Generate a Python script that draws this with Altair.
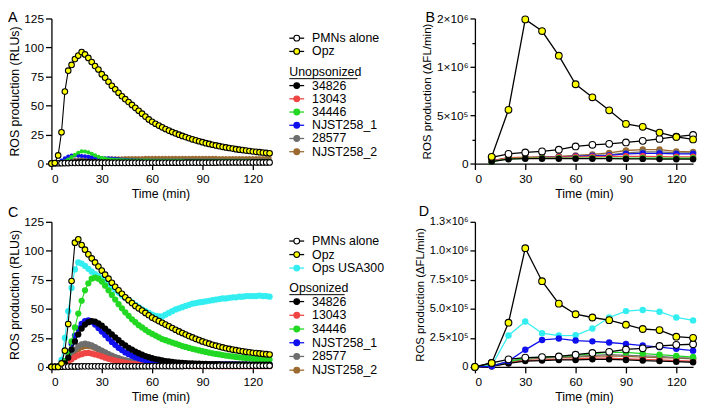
import altair as alt
import pandas as pd

FONT = "Liberation Sans"

# ---------------- data ----------------
T_KIN = [0, 2, 4, 6, 8, 10, 12, 14, 16, 18, 20, 22, 24, 26, 28, 30, 32, 34, 36, 38,
         40, 42, 44, 46, 48, 50, 52, 54, 56, 58, 60, 62, 64, 66, 68, 70, 72, 74, 76, 78,
         80, 82, 84, 86, 88, 90, 92, 94, 96, 98, 100, 102, 104, 106, 108, 110, 112, 114, 116, 118,
         120, 122, 124, 126, 128, 130]

A_PMN = [0.2, 0.2, 0.3, 0.3, 0.4, 0.4, 0.5, 0.5, 0.5, 0.6,
         0.6, 0.6, 0.6, 0.6, 0.6, 0.6, 0.6, 0.6, 0.6, 0.6,
         0.6, 0.6, 0.6, 0.6, 0.6, 0.6, 0.6, 0.6, 0.6, 0.6,
         0.7, 0.7, 0.7, 0.7, 0.7, 0.7, 0.7, 0.7, 0.7, 0.7,
         0.8, 0.8, 0.8, 0.8, 0.8, 0.8, 0.8, 0.8, 0.8, 0.8,
         0.9, 0.9, 0.9, 0.9, 0.9, 0.9, 0.9, 0.9, 0.9, 0.9,
         1.0, 1.0, 1.0, 1.0, 1.0, 1.0]
A_OPZ = [0, 0.5, 7, 27, 62, 80, 85, 90, 93, 96,
         94, 91, 87.5, 84, 81, 77, 74, 70.5, 67, 64,
         61, 58, 55.5, 53, 50.5, 48, 45.5, 43, 40.5, 38,
         36, 34.3, 32.7, 31.2, 29.8, 28.4, 27.2, 26, 24.9, 23.8,
         22.8, 21.8, 20.9, 20, 19.2, 18.4, 17.6, 16.9, 16.2, 15.6,
         15, 14.4, 13.9, 13.4, 12.9, 12.4, 12, 11.6, 11.2, 10.8,
         10.4, 10.1, 9.8, 9.5, 9.2, 8.9]
A_34826 = [0, 0, 0.3, 0.8, 1.2, 1.5, 1.8, 2.0, 2.2, 2.3,
           2.3, 2.3, 2.2, 2.1, 2.0, 2.0, 1.9, 1.9, 1.8, 1.8,
           1.8, 1.7, 1.7, 1.7, 1.6, 1.6, 1.6, 1.6, 1.5, 1.5,
           1.5, 1.5, 1.5, 1.5, 1.5, 1.5, 1.5, 1.5, 1.5, 1.5,
           1.5, 1.5, 1.5, 1.5, 1.5, 1.5, 1.5, 1.5, 1.5, 1.5,
           1.5, 1.5, 1.5, 1.5, 1.5, 1.5, 1.5, 1.5, 1.5, 1.5,
           1.5, 1.5, 1.5, 1.5, 1.5, 1.5]
A_13043 = [0, 0, 0.2, 0.5, 0.8, 1.0, 1.2, 1.4, 1.5, 1.6,
           1.6, 1.6, 1.6, 1.5, 1.5, 1.5, 1.5, 1.5, 1.5, 1.5,
           1.5, 1.5, 1.5, 1.5, 1.5, 1.5, 1.4, 1.4, 1.4, 1.4,
           1.4, 1.4, 1.4, 1.4, 1.4, 1.4, 1.4, 1.4, 1.4, 1.4,
           1.4, 1.4, 1.4, 1.4, 1.4, 1.4, 1.4, 1.4, 1.4, 1.4,
           1.4, 1.4, 1.4, 1.4, 1.4, 1.4, 1.4, 1.4, 1.4, 1.4,
           1.4, 1.4, 1.4, 1.4, 1.4, 1.4]
A_34446 = [0, 0, 0.3, 1.0, 2.0, 3.5, 5.5, 7.5, 9.3, 10.5,
           10.4, 9.6, 8.4, 7.0, 5.8, 4.9, 4.2, 3.7, 3.4, 3.2,
           3.0, 2.9, 2.8, 2.7, 2.6, 2.6, 2.5, 2.5, 2.5, 2.5,
           2.4, 2.4, 2.4, 2.4, 2.4, 2.4, 2.4, 2.4, 2.4, 2.4,
           2.4, 2.4, 2.4, 2.4, 2.4, 2.4, 2.4, 2.4, 2.4, 2.4,
           2.3, 2.3, 2.3, 2.3, 2.3, 2.3, 2.3, 2.3, 2.3, 2.3,
           2.3, 2.3, 2.3, 2.3, 2.3, 2.3]
A_NJ1 = [0, 0.2, 1.0, 2.5, 4.5, 6.0, 6.8, 7.0, 6.8, 6.5,
         6.2, 5.8, 5.5, 5.2, 5.0, 4.8, 4.6, 4.4, 4.2, 4.0,
         3.7, 3.4, 3.1, 2.9, 2.7, 2.6, 2.5, 2.4, 2.4, 2.3,
         2.2, 2.2, 2.2, 2.2, 2.2, 2.2, 2.2, 2.2, 2.2, 2.2,
         2.2, 2.2, 2.2, 2.2, 2.2, 2.2, 2.2, 2.2, 2.2, 2.2,
         2.2, 2.2, 2.2, 2.2, 2.2, 2.2, 2.2, 2.2, 2.2, 2.2,
         2.2, 2.2, 2.2, 2.2, 2.2, 2.2]
A_28577 = [0, 0, 0.3, 0.8, 1.4, 2.0, 2.4, 2.7, 2.9, 3.0,
           3.0, 3.1, 3.1, 3.1, 3.0, 3.0, 3.0, 3.0, 3.0, 3.0,
           3.0, 3.0, 3.0, 3.0, 3.0, 3.0, 3.0, 3.0, 3.0, 3.0,
           2.9, 2.9, 2.9, 2.9, 2.9, 2.9, 2.9, 2.9, 2.9, 2.9,
           2.9, 2.9, 2.9, 2.9, 2.9, 2.9, 2.9, 2.9, 2.9, 2.9,
           2.8, 2.8, 2.8, 2.8, 2.8, 2.8, 2.8, 2.8, 2.8, 2.8,
           2.8, 2.8, 2.8, 2.8, 2.8, 2.8]
A_NJ2 = [0, 0, 0.3, 1.0, 1.8, 2.5, 3.0, 3.3, 3.5, 3.6,
         3.7, 3.8, 3.9, 4.0, 4.1, 4.2, 4.3, 4.4, 4.5, 4.5,
         4.6, 4.6, 4.7, 4.7, 4.8, 4.8, 4.8, 4.8, 4.9, 4.9,
         4.9, 4.9, 4.9, 4.9, 4.9, 4.9, 4.9, 4.9, 4.9, 4.9,
         4.9, 4.9, 4.9, 4.9, 4.9, 4.9, 4.9, 4.9, 4.9, 4.9,
         4.8, 4.8, 4.8, 4.8, 4.8, 4.8, 4.8, 4.8, 4.8, 4.8,
         4.7, 4.7, 4.7, 4.7, 4.7, 4.7]

C_PMN = [0.1, 0.1, 0.2, 0.2, 0.3, 0.3, 0.4, 0.4, 0.4, 0.5,
         0.5, 0.5, 0.5, 0.5, 0.5, 0.5, 0.5, 0.5, 0.5, 0.5,
         0.6, 0.6, 0.6, 0.6, 0.6, 0.6, 0.6, 0.6, 0.6, 0.6,
         0.7, 0.7, 0.7, 0.7, 0.7, 0.7, 0.7, 0.7, 0.7, 0.7,
         0.8, 0.8, 0.8, 0.8, 0.8, 0.8, 0.8, 0.8, 0.8, 0.8,
         0.9, 0.9, 0.9, 0.9, 0.9, 0.9, 0.9, 0.9, 0.9, 0.9,
         1.0, 1.0, 1.0, 1.0, 1.0, 1.0]
C_OPZ = [0, 0, 0, 3, 14, 37, 74, 107, 110, 105,
         101, 97, 93.5, 90, 86.5, 83, 79.5, 76, 72.5, 69,
         66, 63, 60, 57.5, 55, 52.5, 50.5, 48.5, 46.5, 44.5,
         42.5, 41, 39.5, 38, 36.5, 35, 33.5, 32, 30.6, 29.2,
         27.9, 26.6, 25.4, 24.2, 23.1, 22, 21, 20, 19.1, 18.3,
         17.5, 16.8, 16.1, 15.5, 14.9, 14.4, 13.9, 13.4, 13, 12.6,
         12.2, 11.9, 11.6, 11.3, 11, 10.7]
C_USA = [0, 0, 0.5, 6, 25, 48, 68, 84, 90, 89,
         87, 84.5, 82, 80, 78, 76, 74, 71.5, 69, 66.5,
         64, 61.5, 59.5, 57.5, 55.5, 53.5, 51.5, 49.5, 48, 46.5,
         45, 44, 43.5, 43.5, 45, 46.5, 48, 49.5, 50.5, 51.5,
         52.5, 53.5, 54.5, 55, 55.5, 56, 56.5, 57, 57.5, 58,
         58.5, 59, 59, 59.5, 60, 60, 60.5, 60.5, 61, 61,
         61, 61, 61.5, 61, 61, 60.5]
C_34446 = [0, 0, 0, 1, 5, 12, 22, 34, 46, 57,
           66, 72, 76, 77, 76, 73.5, 70, 66, 62, 58,
           54, 50.5, 47, 44, 41, 38.5, 36, 34, 32, 30,
           28.5, 27, 25.5, 24, 23, 22, 21, 20, 19, 18,
           17.2, 16.4, 15.6, 14.9, 14.2, 13.5, 12.9, 12.3, 11.7, 11.2,
           10.7, 10.2, 9.8, 9.4, 9, 8.6, 8.3, 8, 7.7, 7.4,
           7.1, 6.9, 6.7, 6.5, 6.3, 6.1]
C_34826 = [0, 0, 0, 0.5, 3, 8, 15, 22, 28, 33,
           36.5, 38.5, 39.5, 39, 37.5, 35.5, 33, 30.5, 28, 25.5,
           23, 20.5, 18.5, 16.5, 14.8, 13.2, 11.8, 10.5, 9.4, 8.4,
           7.5, 6.8, 6.2, 5.6, 5.1, 4.7, 4.3, 4, 3.7, 3.5,
           3.3, 3.1, 3, 2.9, 2.8, 2.7, 2.6, 2.5, 2.5, 2.4,
           2.4, 2.3, 2.3, 2.2, 2.2, 2.2, 2.1, 2.1, 2.1, 2,
           2, 2, 2, 2, 1.9, 1.9]
C_NJ1 = [0, 0, 0, 1, 5, 12, 20, 27, 33, 37,
         39.5, 40, 39, 36.5, 33.5, 30.5, 27.5, 24.5, 21.5, 19,
         16.5, 14.5, 12.5, 11, 9.6, 8.4, 7.4, 6.6, 5.9, 5.3,
         4.8, 4.4, 4, 3.7, 3.4, 3.2, 3, 2.9, 2.8, 2.7,
         2.6, 2.5, 2.5, 2.4, 2.4, 2.3, 2.3, 2.3, 2.2, 2.2,
         2.2, 2.2, 2.1, 2.1, 2.1, 2.1, 2, 2, 2, 2,
         2, 2, 2, 2, 2, 2]
C_28577 = [0, 0, 0, 0.5, 3, 7, 11, 15, 18, 19.5,
           20, 19.5, 18.5, 17, 15.5, 14, 12.5, 11, 9.7, 8.5,
           7.5, 6.6, 5.8, 5.1, 4.5, 4, 3.6, 3.2, 2.9, 2.6,
           2.4, 2.2, 2, 1.9, 1.8, 1.7, 1.6, 1.6, 1.5, 1.5,
           1.5, 1.4, 1.4, 1.4, 1.4, 1.3, 1.3, 1.3, 1.3, 1.3,
           1.3, 1.2, 1.2, 1.2, 1.2, 1.2, 1.2, 1.2, 1.2, 1.2,
           1.2, 1.2, 1.2, 1.2, 1.2, 1.2]
C_NJ2 = [0, 0, 0, 0.4, 2.5, 6, 9.5, 13, 15.5, 17,
         18, 18, 17.5, 16.5, 15, 13.5, 12, 10.5, 9.2, 8,
         7, 6.1, 5.3, 4.6, 4, 3.5, 3.1, 2.8, 2.5, 2.3,
         2.1, 2, 1.9, 1.8, 1.7, 1.6, 1.6, 1.5, 1.5, 1.5,
         1.4, 1.4, 1.4, 1.4, 1.3, 1.3, 1.3, 1.3, 1.3, 1.3,
         1.2, 1.2, 1.2, 1.2, 1.2, 1.2, 1.2, 1.2, 1.2, 1.2,
         1.2, 1.2, 1.2, 1.2, 1.2, 1.2]
C_13043 = [0, 0, 0, 0.3, 1.5, 4, 6.5, 8.5, 10, 11,
           11.8, 12, 11.5, 10.8, 10, 9, 8, 7, 6.2, 5.4,
           4.7, 4.1, 3.6, 3.1, 2.7, 2.4, 2.1, 1.9, 1.7, 1.5,
           1.3, 1.2, 1.1, 1, 0.9, 0.9, 0.8, 0.8, 0.8, 0.8,
           0.8, 0.7, 0.7, 0.7, 0.7, 0.7, 0.7, 0.7, 0.7, 0.7,
           0.6, 0.6, 0.6, 0.6, 0.6, 0.6, 0.6, 0.6, 0.6, 0.6,
           0.6, 0.6, 0.6, 0.6, 0.6, 0.6]

T_B = [10, 20, 30, 40, 50, 60, 70, 80, 90, 100, 110, 120, 130]
B_OPZ = [70000, 556000, 1980000, 1740000, 1230000, 820000, 685000, 550000, 410000, 380000, 320000, 275000, 250000]
B_PMN = [64000, 100000, 115000, 126000, 143000, 177000, 194000, 204000, 218000, 235000, 255000, 279000, 296000]
B_34826 = [20000, 45000, 50000, 50000, 50000, 50000, 50000, 50000, 48000, 48000, 46000, 45000, 45000]
B_13043 = [25000, 60000, 65000, 65000, 68000, 70000, 72000, 75000, 75000, 75000, 72000, 70000, 70000]
B_34446 = [20000, 50000, 55000, 55000, 55000, 55000, 55000, 56000, 56000, 56000, 55000, 55000, 55000]
B_NJ1 = [25000, 55000, 60000, 65000, 70000, 75000, 80000, 85000, 100000, 105000, 105000, 100000, 100000]
B_28577 = [25000, 55000, 60000, 65000, 70000, 80000, 85000, 90000, 110000, 120000, 120000, 110000, 110000]
B_NJ2 = [30000, 60000, 65000, 70000, 75000, 85000, 95000, 110000, 135000, 145000, 145000, 125000, 120000]

T_D = [0, 10, 20, 30, 40, 50, 60, 70, 80, 90, 100, 110, 120, 130]
D_OPZ = [0, 34000, 380000, 1025000, 737000, 544000, 453000, 425000, 402000, 363000, 326000, 317000, 260000, 250000]
D_PMN = [0, 35000, 65000, 80000, 85000, 90000, 105000, 120000, 130000, 150000, 160000, 180000, 190000, 195000]
D_USA = [0, 10000, 270000, 390000, 290000, 270000, 272000, 330000, 425000, 480000, 490000, 475000, 425000, 400000]
D_NJ1 = [0, 5000, 50000, 147000, 232000, 244000, 227000, 220000, 210000, 198000, 184000, 170000, 156000, 140000]
D_34446 = [0, 10000, 45000, 75000, 85000, 90000, 100000, 115000, 125000, 125000, 115000, 105000, 95000, 85000]
D_28577 = [0, 10000, 45000, 70000, 80000, 85000, 90000, 100000, 105000, 100000, 95000, 90000, 80000, 75000]
D_NJ2 = [0, 10000, 40000, 65000, 75000, 80000, 85000, 90000, 95000, 90000, 85000, 80000, 75000, 70000]
D_13043 = [0, 5000, 35000, 55000, 60000, 65000, 70000, 75000, 75000, 70000, 65000, 60000, 55000, 50000]
D_34826 = [0, 5000, 30000, 50000, 55000, 60000, 60000, 65000, 65000, 60000, 55000, 50000, 45000, 40000]

STRAINS = ["34826", "13043", "34446", "NJST258_1", "28577", "NJST258_2"]
COLORS = {"PMNs alone": "#ffffff", "Opz": "#ffff00", "Ops USA300": "#33eef0",
          "34826": "#000000", "13043": "#ef4545", "34446": "#22d822",
          "NJST258_1": "#1010ee", "28577": "#6e6e6e", "NJST258_2": "#9c6a30"}
X_TICKS = [0, 30, 60, 90, 120]

W, H = 221, 147
LEG_W = 208


def style(name):
    if name in ("PMNs alone", "Opz"):
        return "#000000", COLORS[name], "#000000"
    c = COLORS[name]
    return c, c, None


def xenc():
    return alt.X("t:Q", scale=alt.Scale(domain=[0, 130], nice=False, zero=False),
                 axis=alt.Axis(values=X_TICKS, title="Time (min)", tickSize=6,
                               labelPadding=4, titlePadding=3))


def series(t, v, name, ye, big, small, lw=1.2):
    line_c, fill_c, stroke_c = style(name)
    df = pd.DataFrame({"t": t, "v": v})
    base = alt.Chart(df)
    line = base.mark_line(color=line_c, strokeWidth=lw).encode(x=xenc(), y=ye)
    if stroke_c:
        pt = base.mark_circle(size=big, fill=fill_c, stroke=stroke_c, strokeWidth=1.1,
                              opacity=1, fillOpacity=1).encode(x=xenc(), y=ye)
    else:
        pt = base.mark_circle(size=small, color=fill_c, opacity=1).encode(x=xenc(), y=ye)
    return [line, pt]


def letter(ch, dx, dy):
    return alt.Chart(pd.DataFrame({"L": [ch]})).mark_text(
        align="left", baseline="top", fontSize=14.5, font=FONT, color="black"
    ).encode(x=alt.value(dx), y=alt.value(dy), text="L:N")


def panel(t, entries, ye, ch, big, small, lw=1.2, dx=-44, dy=-7):
    layers = []
    for name, vals in entries:
        layers += series(t, vals, name, ye, big, small, lw)
    layers.append(letter(ch, dx, dy))
    return alt.layer(*layers).properties(width=W, height=H)


def legend(top_names, header, ul_w, y_top, sp, hgap, first_gap, sp2):
    rows = []
    y = y_top
    for n in top_names:
        lc, fc, sc = style(n)
        rows.append((n, y, lc, fc, sc or fc))
        y += sp
    y_header = y - sp + hgap
    y = y_header + first_gap
    for n in STRAINS:
        lc, fc, sc = style(n)
        rows.append((n, y, lc, fc, sc or fc))
        y += sp2
    df = pd.DataFrame(rows, columns=["name", "y", "line", "fill", "stroke"])
    ys = alt.Y("y:Q", scale=alt.Scale(domain=[0, H], range=[0, H], nice=False, zero=False), axis=None)
    rule = alt.Chart(df).mark_rule(strokeWidth=1.3).encode(
        x=alt.value(20), x2=alt.value(35), y=ys, color=alt.Color("line:N", scale=None))
    pts = alt.Chart(df).mark_circle(size=34, strokeWidth=1.1, opacity=1).encode(
        x=alt.value(27.5), y=ys, fill=alt.Fill("fill:N", scale=None),
        stroke=alt.Stroke("stroke:N", scale=None))
    txt = alt.Chart(df).mark_text(align="left", baseline="middle", fontSize=12.5, font=FONT,
                                  color="black").encode(x=alt.value(43), y=ys, text="name:N")
    hdf = pd.DataFrame({"h": [header], "y": [y_header], "u": [y_header + 7]})
    hdr = alt.Chart(hdf).mark_text(align="left", baseline="middle", fontSize=12.5, font=FONT,
                                   color="black").encode(x=alt.value(20), y=ys, text="h:N")
    ul = alt.Chart(hdf).mark_rule(strokeWidth=1, color="black").encode(
        x=alt.value(20), x2=alt.value(20 + ul_w),
        y=alt.Y("u:Q", scale=alt.Scale(domain=[0, H], range=[0, H], nice=False, zero=False), axis=None))
    return alt.layer(rule, pts, txt, hdr, ul).properties(width=LEG_W, height=H)


# ---- y encodings ----
Y_RLU = alt.Y("v:Q", scale=alt.Scale(domain=[0, 125], nice=False, zero=False),
              axis=alt.Axis(values=[0, 25, 50, 75, 100, 125], title="ROS production (RLUs)",
                            tickSize=6, labelPadding=2, titlePadding=2))

B_LABELS = ("datum.value == 0 ? '0' : datum.value == 500000 ? '5×10⁵' : "
            "datum.value == 1000000 ? '1×10⁶' : datum.value == 2000000 ? '2×10⁶' : ''")
Y_B = alt.Y("v:Q", scale=alt.Scale(domain=[0, 1000000, 2000000], range=[H, 49, 0], nice=False, zero=False),
            axis=alt.Axis(values=[0, 250000, 500000, 750000, 1000000, 1500000, 2000000],
                          labelExpr=B_LABELS, title="ROS production (ΔFL/min)", titleFontSize=11.7,
                          tickSize={"condition": {"test": "datum.value == 250000 || datum.value == 750000 || datum.value == 1500000", "value": 3}, "value": 5},
                          labelPadding=2, titlePadding=4))

D_LABELS = ("datum.value == 0 ? '0' : datum.value == 250000 ? '2.5×10⁵' : "
            "datum.value == 500000 ? '5.0×10⁵' : datum.value == 750000 ? '7.5×10⁵' : "
            "datum.value == 1000000 ? '1.0×10⁶' : '1.3×10⁶'")
Y_D = alt.Y("v:Q", scale=alt.Scale(domain=[0, 1000000, 1300000], range=[H, 29.2, 0], nice=False, zero=False),
            axis=alt.Axis(values=[0, 250000, 500000, 750000, 1000000, 1300000],
                          labelExpr=D_LABELS, title="ROS production (ΔFL/min)", titleFontSize=11.5,
                          labelFontSize=11.2, tickSize=5, labelPadding=2, titlePadding=4))

pA = panel(T_KIN, [("NJST258_2", A_NJ2), ("28577", A_28577), ("NJST258_1", A_NJ1),
                   ("34446", A_34446), ("13043", A_13043), ("34826", A_34826),
                   ("PMNs alone", A_PMN), ("Opz", A_OPZ)], Y_RLU, "A", 32, 18, 1.1, -44, -7)
pC = panel(T_KIN, [("Ops USA300", C_USA), ("NJST258_2", C_NJ2), ("28577", C_28577),
                   ("13043", C_13043), ("NJST258_1", C_NJ1), ("34446", C_34446),
                   ("34826", C_34826), ("PMNs alone", C_PMN), ("Opz", C_OPZ)], Y_RLU, "C", 32, 40, 1.1, -44, -16)
pB = panel(T_B, [("NJST258_2", B_NJ2), ("28577", B_28577), ("NJST258_1", B_NJ1),
                 ("13043", B_13043), ("34446", B_34446), ("34826", B_34826),
                 ("PMNs alone", B_PMN), ("Opz", B_OPZ)], Y_B, "B", 46, 42, 1.3, -50, -7)
pD = panel(T_D, [("NJST258_2", D_NJ2), ("28577", D_28577), ("13043", D_13043),
                 ("34446", D_34446), ("34826", D_34826), ("Ops USA300", D_USA),
                 ("NJST258_1", D_NJ1), ("PMNs alone", D_PMN), ("Opz", D_OPZ)], Y_D, "D", 46, 42, 1.3, -57, -17)

legA = legend(["PMNs alone", "Opz"], "Unopsonized", 69, 20.0, 13.4, 20.6, 14, 13.4)
legC = legend(["PMNs alone", "Opz", "Ops USA300"], "Opsonized", 56, 19.5, 13.7, 19.9, 14, 13.9)

chart = alt.concat(pA, legA, pB, pC, legC, pD, columns=3,
                   spacing={"row": 59, "column": 0}, bounds="flush").properties(
    padding=0
).configure_view(stroke=None).configure_axis(
    domainColor="black", tickColor="black", labelColor="black", titleColor="black",
    labelFont=FONT, titleFont=FONT, labelFontSize=12, titleFontSize=12.5,
    titleFontWeight="normal", grid=False, domainWidth=1.3, tickWidth=1.3
)

chart.save("out.html", embed_options={"renderer": "svg", "actions": False})
